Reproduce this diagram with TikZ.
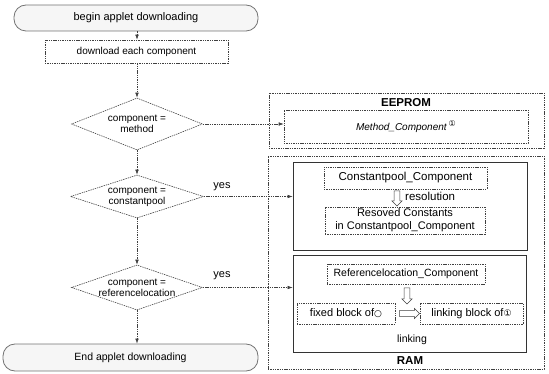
\documentclass[tikz,border=0pt]{standalone}
\usepackage{fontspec}
\setmainfont{Liberation Sans}
\newfontfamily\circfont{DejaVu Sans}
\usetikzlibrary{shapes.geometric,shapes.arrows,arrows.meta}
\begin{document}
\begin{tikzpicture}[x=1pt,y=-1pt,
  ln/.style={draw=black!75, line width=0.6pt, dash pattern=on 1.4pt off 0.9pt},
  arr/.style={ln, -{Latex[length=5pt,width=3.6pt]}},
  term/.style={draw=black!55, line width=0.8pt, rounded corners=12pt, fill=gray!7, inner sep=0pt, font=\fontsize{11}{13}\selectfont},
  box/.style={ln, inner sep=0pt, align=center},
  grp/.style={draw=black!80, line width=0.7pt, inner sep=0pt},
  dia/.style={diamond, ln, inner sep=0pt},
  dtxt/.style={align=center, font=\fontsize{10}{11}\selectfont},
  hollow/.style={single arrow, draw=black!75, line width=0.55pt, fill=white, single arrow head extend=2.2pt, inner sep=2.6pt, font=\fontsize{1}{1}\selectfont},
  big/.style={font=\fontsize{11.5}{13.5}\selectfont},
  lbl/.style={inner sep=0pt}
]
\useasboundingbox (0,0) rectangle (549,374);

% left flow
\node[term, minimum width=244, minimum height=26] (start) at (136,18) {begin applet downloading};
\node[box, minimum width=183, minimum height=23, font=\fontsize{10}{12}\selectfont] (download) at (136.5,51.5) {download each component};
\node[dia, minimum width=131, minimum height=52, label={[dtxt]center:component =\\method}] (d1) at (137,124) {};
\node[dia, minimum width=133, minimum height=43, label={[dtxt]center:component =\\constantpool}] (d2) at (137,196.5) {};
\node[dia, minimum width=131, minimum height=45, label={[dtxt]center:component =\\referencelocation}] (d3) at (137,287.5) {};
\node[term, minimum width=255, minimum height=27, font=\fontsize{10.5}{12}\selectfont] (end) at (130.5,357.5) {End applet downloading};

\node[lbl, font=\fontsize{11}{13}\selectfont] (yes1) at (222,187) {yes};
\node[lbl, font=\fontsize{11}{13}\selectfont] (yes2) at (222,276) {yes};

% right: EEPROM
\node[box, minimum width=275, minimum height=55] (eeprom) at (406.5,120.5) {};
\node[lbl, font=\bfseries\fontsize{11.5}{13}\selectfont] (eepromlbl) at (406,103) {EEPROM};
\node[box, minimum width=244, minimum height=33] (method) at (406,126.5)
  {\fontsize{10}{12}\selectfont\textit{Method\_Component}\,\raisebox{3.5pt}{\circfont\fontsize{8}{9}\selectfont ①}};

% right: RAM
\node[box, minimum width=276, minimum height=213] (ram) at (406,262.5) {};
\node[lbl, font=\bfseries\fontsize{11.5}{13}\selectfont] (ramlbl) at (410,361) {RAM};

\node[grp, minimum width=234, minimum height=88] (grp1) at (410,206) {};
\node[box, minimum width=163, minimum height=22, big] (cp) at (405.5,178) {Constantpool\_Component};
\node[hollow, minimum height=15, shape border rotate=270] (resarr) at (397,197) {};
\node[lbl, big, anchor=west] (reslbl) at (405,196) {resolution};
\node[box, minimum width=160, minimum height=27, font=\fontsize{11}{13}\selectfont] (rc) at (405,220.5) {Resoved Constants\\in Constantpool\_Component};

\node[grp, minimum width=233, minimum height=97] (grp2) at (409.5,303.5) {};
\node[box, minimum width=158, minimum height=20, font=\fontsize{10.5}{12}\selectfont] (ref) at (406,274) {Referencelocation\_Component};
\node[hollow, minimum height=16, shape border rotate=270] (downarr) at (407,294.5) {};
\node[box, minimum width=98, minimum height=21, font=\fontsize{11}{13}\selectfont] (fixed) at (346,313.5) {fixed block of{\circfont\fontsize{9}{10}\selectfont ○}};
\node[hollow, minimum height=20] (rightarr) at (408,313.5) {};
\node[box, minimum width=103, minimum height=21, font=\fontsize{11}{13}\selectfont] (link) at (471.5,313.5) {linking block of{\circfont\fontsize{9}{10}\selectfont ①}};
\node[lbl, font=\fontsize{10.5}{12}\selectfont] (linklbl) at (412,340) {linking};

% connectors
\draw[arr] (d1 |- start.south) -- (d1 |- download.north);
\draw[arr] (d1 |- download.south) -- (d1.north);
\draw[arr] (d1.south) -- (d2.north);
\draw[arr] (d2.south) -- (d3.north);
\draw[arr] (d3.south) -- (d3.south |- end.north);
\draw[arr] (d1.east) -- (d1.east -| method.west);
\draw[arr] (d2.east) -- (d2.east -| grp1.west);
\draw[arr] (d3.east) -- (d3.east -| grp2.west);
\end{tikzpicture}
\end{document}
